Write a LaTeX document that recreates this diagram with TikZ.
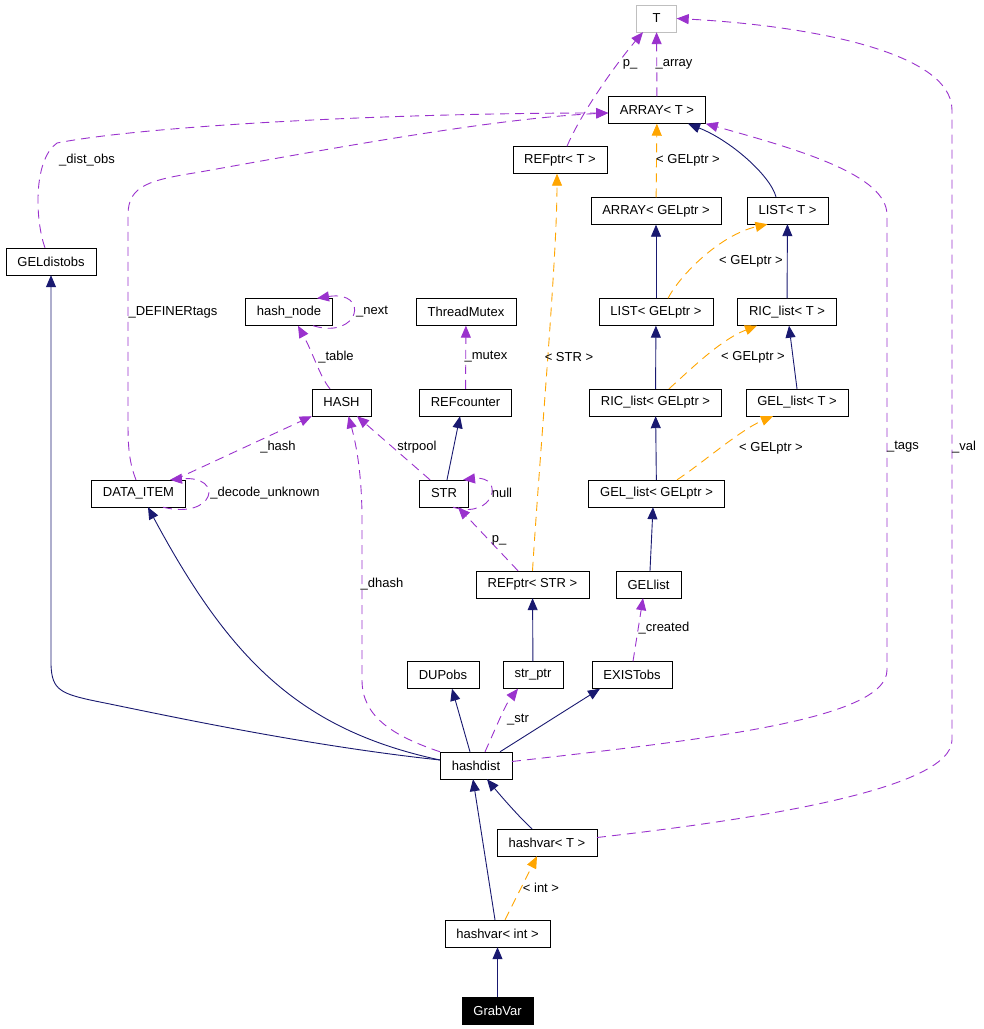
\documentclass[tikz,border=0pt]{standalone}
\usepackage{fontspec}
\setmainfont{Liberation Sans}
\usetikzlibrary{arrows.meta}
\definecolor{inhcol}{HTML}{191970}
\definecolor{usecol}{HTML}{9A32CD}
\definecolor{tmplcol}{HTML}{FFA500}

\begin{document}
\begin{tikzpicture}
	[x=1pt,y=-1pt,
	class node/.style={shape=rectangle,draw,fill=white,minimum height=27pt,inner xsep=11.5pt,inner ysep=0pt,font=\fontsize{13}{15}\selectfont},
	label node/.style={inner sep=0pt,font=\fontsize{13}{15}\selectfont},
	inherit edge/.style={draw=inhcol,line width=.9pt,-{Triangle[length=12pt,width=10pt]}},
	use edge/.style={draw=usecol,line width=.9pt,dash pattern=on 9pt off 6pt,-{Triangle[length=12pt,width=10pt]}},
	tmpl edge/.style={draw=tmplcol,line width=.9pt,dash pattern=on 9pt off 6pt,-{Triangle[length=12pt,width=10pt]}}]
	\useasboundingbox (0,0) rectangle (984,1029);

	\node [class node,draw=black!25,minimum width=40pt] (1) at (656.5,18.5) {T};
	\node [class node] (2) at (657,110) {ARRAY< T >};
	\node [class node] (3) at (560,160) {REFptr< T >};
	\node [class node] (4) at (656,211) {ARRAY< GELptr >};
	\node [class node] (5) at (787.5,210.5) {LIST< T >};
	\node [class node] (6) at (51,261.5) {GELdistobs};
	\node [class node] (7) at (289,312) {hash\_node};
	\node [class node] (8) at (466,312) {ThreadMutex};
	\node [class node] (9) at (656,312) {LIST< GELptr >};
	\node [class node] (10) at (787,312) {RIC\_list< T >};
	\node [class node] (11) at (341.5,402.5) {HASH};
	\node [class node] (12) at (465.5,402.5) {REFcounter};
	\node [class node] (13) at (655.5,402.5) {RIC\_list< GELptr >};
	\node [class node] (14) at (797,402.5) {GEL\_list< T >};
	\node [class node] (15) at (138.5,493.5) {DATA\_ITEM};
	\node [class node] (16) at (444,493.5) {STR};
	\node [class node] (17) at (656.5,493.5) {GEL\_list< GELptr >};
	\node [class node] (18) at (532.5,584.5) {REFptr< STR >};
	\node [class node] (19) at (648.5,584.5) {GELlist};
	\node [class node] (20) at (443,675) {DUPobs};
	\node [class node] (21) at (533,675) {str\_ptr};
	\node [class node] (22) at (632,675) {EXISTobs};
	\node [class node] (23) at (476,765.5) {hashdist};
	\node [class node] (24) at (547,842.5) {hashvar< T >};
	\node [class node] (25) at (497.5,933.5) {hashvar< int >};
	\node [class node,fill=black,text=white] (26) at (497.5,1011) {GrabVar};

	\path[]
	(9) edge[inherit edge] (4)
	(10) edge[inherit edge] (5)
	(13) edge[inherit edge] (9)
	(14.north) edge[inherit edge] ([xshift=2pt]10.south)
	(17) edge[inherit edge] (13)
	([xshift=1.5pt]19.north) edge[inherit edge] ([xshift=-3.5pt]17.south)
	([xshift=3pt]16.north) edge[inherit edge] ([xshift=-5.5pt]12.south)
	([xshift=-6pt]23.north) edge[inherit edge] ([xshift=9pt]20.south)
	([xshift=24pt]23.north) edge[inherit edge] ([xshift=-32pt]22.south)
	(21) edge[inherit edge] (18)
	([xshift=-2.5pt]25.north) edge[inherit edge] ([xshift=-3pt]23.south)
	(26) edge[inherit edge] (25)
	(4) edge[tmpl edge] (2)
	([xshift=7.5pt]25.north) edge[tmpl edge] ([xshift=-10pt]24.south)
	(2) edge[use edge] (1)
	(12) edge[use edge] (8)
	([xshift=36pt]15.north) edge[use edge] (11.south west)
	([xshift=-14pt]16.north) edge[use edge] ([xshift=15.5pt]11.south)
	([xshift=-14.5pt]18.north) edge[use edge] ([xshift=14pt]16.south)
	([xshift=1pt]22.north) edge[use edge] ([xshift=-5.5pt]19.south)
	;

	\draw[inherit edge] ([xshift=-11.5pt]5.north) .. controls (770,175) and (730,140) .. ([xshift=31pt]2.south);
	\draw[inherit edge] ([yshift=5.5pt]23.west) .. controls (300,745) and (150,712) .. (100,702) .. controls (60,694) and (52,690) .. (6.south |- 0,665) -- (6.south);
	\draw[inherit edge] ([yshift=5.5pt]23.west) .. controls (300,730) and (230,660) .. ([xshift=9.5pt]15.south);
	\draw[inherit edge] ([xshift=-15pt]24.north) .. controls (520,818) and (500,795) .. ([xshift=11pt]23.south);

	\draw[tmpl edge] ([xshift=12pt]9.north) .. controls (680,275) and (720,235) .. ([xshift=-20pt]5.south);
	\draw[tmpl edge] ([xshift=13.5pt]13.north) .. controls (690,370) and (720,340) .. ([xshift=-30pt]10.south);
	\draw[tmpl edge] ([xshift=20.5pt]17.north) .. controls (700,465) and (740,430) .. ([xshift=-24pt]14.south);
	\draw[tmpl edge] (18.north) .. controls (540,450) and (557,260) .. ([xshift=-3pt]3.south);

	\draw[use edge] ([xshift=7pt]3.north) .. controls (580,115) and (615,65) .. ([xshift=-13.5pt]1.south);
	\draw[use edge] ([yshift=5pt]24.east) .. controls (750,820) and (952,790) .. (952,740) -- (952,110) .. controls (952,50) and (800,25) .. (1.east);
	\draw[use edge] ([xshift=-6pt]6.north) .. controls (35,220) and (33,160) .. (57,143) .. controls (150,125) and (400,113) .. ([yshift=-3pt]2.west);
	\draw[use edge] ([xshift=-2.5pt]15.north) .. controls (128,460) and (128,440) .. (128,420) -- (128,215) .. controls (128,185) and (150,180) .. (200,172) .. controls (350,145) and (500,118) .. ([yshift=-3pt]2.west);
	\draw[use edge] ([yshift=4pt]23.east) .. controls (700,740) and (887,720) .. (887,670) -- (887,215) .. controls (887,175) and (800,150) .. (2.south east);
	\draw[use edge] ([xshift=24pt]7.south) .. controls (360,340) and (370,290) .. ([xshift=28pt]7.north);
	\draw[use edge] ([xshift=-11.5pt]11.north) .. controls (320,377) and (313,353) .. ([xshift=9pt]7.south);
	\draw[use edge] ([xshift=24.5pt]15.south) .. controls (215,520) and (225,475) .. ([xshift=31.5pt]15.north);
	\draw[use edge] (23.north west) .. controls (390,735) and (362,715) .. (362,680) -- (362,520) .. controls (362,470) and (355,440) .. ([xshift=7pt]11.south);
	\draw[use edge] ([xshift=9pt]16.south) .. controls (495,520) and (505,475) .. ([xshift=19pt]16.north);
	\draw[use edge] ([xshift=9pt]23.north) .. controls (495,730) and (505,705) .. ([xshift=-15pt]21.south);

	\node [label node] (l1) at (674,64) {\_array};
	\node [label node] (l2) at (630,64) {p\_};
	\node [label node] (l3) at (688,160) {< GELptr >};
	\node [label node] (l4) at (751,261) {< GELptr >};
	\node [label node] (l5) at (753,357) {< GELptr >};
	\node [label node] (l6) at (771,448) {< GELptr >};
	\node [label node] (l7) at (569,357) {< STR >};
	\node [label node] (l8) at (541,888) {< int >};
	\node [label node] (l9) at (87,160) {\_dist\_obs};
	\node [label node] (l10) at (173,312) {\_DEFINERtags};
	\node [label node] (l11) at (372,312) {\_next};
	\node [label node] (l12) at (336,357) {\_table};
	\node [label node] (l13) at (486,357) {\_mutex};
	\node [label node] (l14) at (278,447) {\_hash};
	\node [label node] (l15) at (417,447) {strpool};
	\node [label node] (l16) at (265,493) {\_decode\_unknown};
	\node [label node] (l17) at (502,493) {null};
	\node [label node] (l18) at (382,584) {\_dhash};
	\node [label node] (l19) at (499,540) {p\_};
	\node [label node] (l20) at (664,628) {\_created};
	\node [label node] (l21) at (518,720) {\_str};
	\node [label node] (l22) at (903,447) {\_tags};
	\node [label node] (l23) at (964,447) {\_val};

	\end{tikzpicture}
\end{document}
